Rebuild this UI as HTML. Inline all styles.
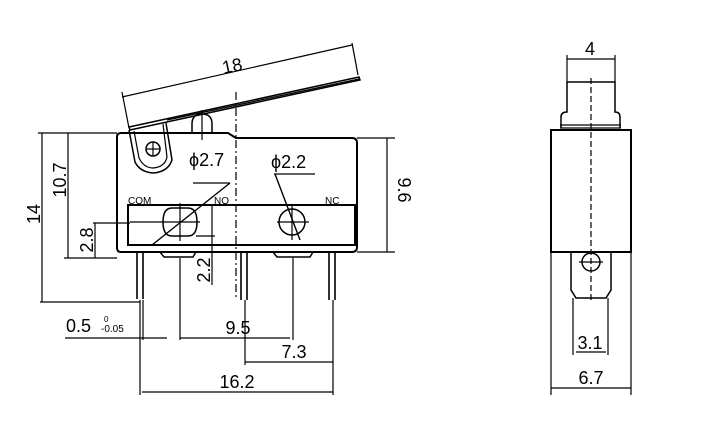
<!DOCTYPE html>
<html><head><meta charset="utf-8"><style>
html,body{margin:0;padding:0;background:#fff;}
svg{display:block;}
text{font-family:"Liberation Sans",Arial,sans-serif;fill:#000;}
</style></head><body>
<svg width="728" height="425" viewBox="0 0 728 425" xmlns="http://www.w3.org/2000/svg">
<g fill="none" stroke="#000" stroke-width="1.2">
<path d="M121,133 H228 L236,138 H352 Q357,138 357,143 V247 Q357,252 352,252 H121 Q117,252 117,248 V137 Q117,133 121,133 Z" stroke-width="2"/>
<rect x="128" y="205" width="227" height="40" stroke-width="2"/>
<path d="M129,127 L359,77 L360,80 L130,130 Z" stroke-width="1.5"/>
<line x1="167" y1="120" x2="359" y2="79"/>
<path d="M129,130 L135,162 Q140,172 153,173 Q168,172 172,160 L166,123" stroke-width="1.5"/>
<path d="M134,131 L139,158 Q144,168 153,168 Q165,167 167,157 L163,124"/>
<circle cx="153" cy="149" r="7" stroke-width="1.5"/>
<line x1="146" y1="149" x2="160" y2="149"/><line x1="153" y1="142" x2="153" y2="156"/>
<path d="M192,133 V124 Q192,114 202,114 Q212,114 212,124 V133" stroke-width="1.5"/>
<line x1="236" y1="92" x2="236" y2="300" stroke-dasharray="8,3,2,3"/>
<line x1="202" y1="110" x2="202" y2="140"/>
<path d="M172,208 H188 Q197,208 197,222 Q197,236 188,236 H172 Q163,236 163,222 Q163,208 172,208 Z" stroke-width="1.5"/>
<line x1="180" y1="203" x2="180" y2="241"/>
<line x1="130" y1="222" x2="200" y2="222"/>
<line x1="196" y1="236" x2="215" y2="236"/>
<circle cx="292" cy="222" r="13" stroke-width="1.5"/>
<line x1="277" y1="222" x2="309" y2="222"/><line x1="292" y1="205" x2="292" y2="240"/>
<line x1="152" y1="245" x2="230" y2="183" stroke-width="1.4"/>
<line x1="193" y1="183" x2="230" y2="183"/>
<line x1="274" y1="174" x2="315" y2="174"/>
<line x1="275" y1="174" x2="300" y2="240" stroke-width="1.4"/>
<path d="M160,252 L164,257 H193 L196,252" stroke-width="1.5"/>
<path d="M273,252 L277,257 H310 L313,252" stroke-width="1.5"/>
<path d="M137,252 V299 M143,252 V299" stroke-width="1.6"/>
<path d="M241,252 V300 M247,252 V300" stroke-width="1.6"/>
<path d="M329,252 V300 M335,252 V300" stroke-width="1.6"/>
<line x1="122" y1="97" x2="352" y2="45"/>
<line x1="122" y1="92" x2="129" y2="128"/>
<line x1="352" y1="43" x2="358" y2="75"/>
<line x1="42" y1="133" x2="42" y2="302"/>
<line x1="38" y1="133" x2="117" y2="133"/>
<line x1="40" y1="302" x2="140" y2="302"/>
<line x1="68" y1="133" x2="68" y2="258"/>
<line x1="64" y1="258" x2="117" y2="258"/>
<line x1="95" y1="223" x2="95" y2="258"/>
<line x1="93" y1="223" x2="130" y2="223"/>
<line x1="357" y1="138" x2="395" y2="138"/>
<line x1="357" y1="252" x2="395" y2="252"/>
<line x1="387" y1="138" x2="387" y2="252"/>
<line x1="212" y1="205" x2="212" y2="285"/>
<line x1="140" y1="300" x2="140" y2="395"/>
<line x1="143" y1="300" x2="143" y2="340"/>
<line x1="180" y1="258" x2="180" y2="340"/>
<line x1="245" y1="300" x2="245" y2="365"/>
<line x1="293" y1="258" x2="293" y2="340"/>
<line x1="333" y1="300" x2="333" y2="395"/>
<line x1="65" y1="338" x2="167" y2="338"/>
<line x1="180" y1="338" x2="290" y2="338"/>
<line x1="245" y1="362" x2="333" y2="362"/>
<line x1="142" y1="392" x2="333" y2="392"/>
<rect x="551" y="130" width="80" height="122" stroke-width="2"/>
<path d="M567,82 H615 V112 Q620,112 620,117 V128 M567,82 V112 Q561,112 561,117 V128" stroke-width="1.5"/>
<line x1="560" y1="125" x2="621" y2="125"/><line x1="560" y1="128" x2="621" y2="128"/>
<path d="M571,252 V290 L576,298 H606 L611,290 V252" stroke-width="1.5"/>
<circle cx="591" cy="262" r="9" stroke-width="1.5"/>
<line x1="579" y1="262" x2="603" y2="262"/>
<line x1="591" y1="78" x2="591" y2="300" stroke-dasharray="6,3"/>
<line x1="567" y1="55" x2="567" y2="82"/><line x1="615" y1="55" x2="615" y2="82"/>
<line x1="567" y1="59" x2="615" y2="59"/>
<line x1="573" y1="298" x2="573" y2="355"/><line x1="608" y1="298" x2="608" y2="355"/>
<line x1="576" y1="352" x2="606" y2="352"/>
<line x1="551" y1="252" x2="551" y2="395"/><line x1="631" y1="252" x2="631" y2="395"/>
<line x1="551" y1="388" x2="631" y2="388"/>
</g>
<g font-size="18">
<text x="232" y="72" text-anchor="middle" transform="rotate(-12 232 65)">18</text>
<text x="189" y="166">ϕ2.7</text>
<text x="271" y="168">ϕ2.2</text>
<text x="128" y="204" font-size="10">COM</text>
<text x="214" y="204" font-size="10">NO</text>
<text x="325" y="204" font-size="10">NC</text>
<text transform="translate(40,214) rotate(-90)" text-anchor="middle">14</text>
<text transform="translate(66,180) rotate(-90)" text-anchor="middle">10.7</text>
<text transform="translate(93,240) rotate(-90)" text-anchor="middle">2.8</text>
<text transform="translate(210,270) rotate(-90)" text-anchor="middle">2.2</text>
<text transform="translate(398,190) rotate(90)" text-anchor="middle">9.6</text>
<text x="66" y="332">0.5</text>
<text x="104" y="322" font-size="8">0</text>
<text x="101" y="332" font-size="10">-0.05</text>
<text x="238" y="334" text-anchor="middle">9.5</text>
<text x="294" y="358" text-anchor="middle">7.3</text>
<text x="237" y="388" text-anchor="middle">16.2</text>
<text x="590" y="55" text-anchor="middle">4</text>
<text x="590" y="349" text-anchor="middle">3.1</text>
<text x="591" y="384" text-anchor="middle">6.7</text>
</g>
</svg>
</body></html>
